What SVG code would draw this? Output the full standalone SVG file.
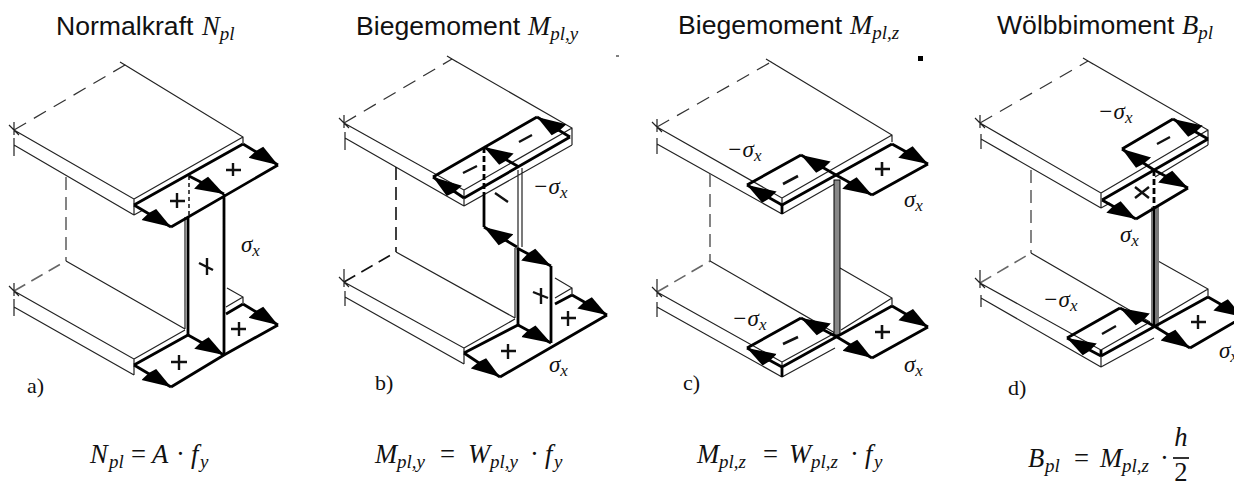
<svg xmlns="http://www.w3.org/2000/svg" width="1234" height="483" viewBox="0 0 1234 483">
<style>
.t{font-family:"Liberation Sans",Arial,sans-serif;font-size:26.6px;fill:#111}
.m{font-family:"Liberation Serif","DejaVu Serif",serif;font-style:italic;font-size:26.6px;fill:#111}
.m tspan.i{font-size:19px}
.u{font-style:normal}
.l{font-family:"Liberation Serif",serif;font-size:22px;fill:#111}
.s{font-family:"Liberation Serif","DejaVu Serif",serif;font-style:italic;font-size:23px;fill:#111}
.s tspan{font-size:17px}
.e{fill:none;stroke:#222;stroke-width:1.2}
.d{fill:none;stroke:#333;stroke-width:1.2;stroke-dasharray:14 9}
.g{fill:none;stroke:#666;stroke-width:1.6;stroke-dasharray:13 7}
.k{stroke:#111}
.b{fill:none;stroke:#000;stroke-width:2.8}
.a{fill:none;stroke:#000;stroke-width:2.8;marker-end:url(#h)}
.p{fill:none;stroke:#111;stroke-width:2.4}
</style>
<defs>
<marker id="h" markerUnits="userSpaceOnUse" markerWidth="30" markerHeight="20" viewBox="0 0 30 20" refX="29" refY="10" orient="auto"><path d="M29 10 L7 2 L3 9 L0 19 Z" fill="#000"/></marker>
</defs>
<rect width="1234" height="483" fill="#fff"/>

<g id="titles">
<text class="t" x="56" y="35">Normalkraft</text>
<text class="m" x="202" y="35">N<tspan class="i" dy="5">pl</tspan></text>
<text class="t" x="356" y="35">Biegemoment</text>
<text class="m" x="528" y="35">M<tspan class="i" dy="5">pl,y</tspan></text>
<text class="t" x="678" y="34">Biegemoment</text>
<text class="m" x="850" y="34">M<tspan class="i" dy="5">pl,z</tspan></text>
<text class="t" x="997" y="34">Wölbbimoment</text>
<text class="m" x="1182" y="34">B<tspan class="i" dy="5">pl</tspan></text>
</g>

<g id="panel-a">
<g id="a-beam">
<path class="d" d="M14 130 L125 65"/><path class="e" d="M9 125 L19 135 M14 122 V135 M120 62 L130 68 M125 65 L243 137 V143 M14 130 L134 199 V215 M14 145 L134 215 M14 138 V156 M134 199 L243 137 M134 215 L143 210"/>
<path class="g" d="M66 177 V261 M14 291 L66 261"/>
<path class="e" d="M9 286 L19 296 M14 283 V296 M14 299 V316 M66 261 L185 329 M14 291 L134 359 V375 M14 307 L134 375 M134 359 L185 330 M227 288 L243 297 V303 M226 307 L243 297 M185 217 V329"/>
</g>
<g id="a-stress">
<path class="a" d="M243 144 L278 165"/><path class="a" d="M134 205 L171 227"/><path class="a" d="M189 176 L224 194"/>
<path class="b" d="M134 205 L243 144 M278 165 L171 227 M188 217 V335 M224 194 V355"/>
<path d="M189 176 V217" fill="none" stroke="#000" stroke-width="1.4" stroke-dasharray="4 3"/>
<path class="a" d="M243 304 L278 325"/><path class="a" d="M134 365 L171 387"/><path class="a" d="M188 335 L224 355"/>
<path class="b" d="M134 365 L188 335 M226 314 L243 304 M278 325 L224 355 L171 387"/>
<path class="p" d="M226 170 L241 170 M233 163 V176 M170 201 L185 201 M177 193 V208 M199 263 L213 270 M207 258 V275 M171 362 L187 362 M179 355 V370 M231 329 L246 329 M239 322 V336"/>
</g>
<text class="s" x="241" y="252">σ<tspan dy="4">x</tspan></text>
<text class="l" x="27" y="393">a)</text>
</g>

<g id="panel-b">
<g id="b-beam">
<path class="d" d="M344 123 L452 59"/><path class="e" d="M339 118 L349 128 M344 115 V128 M447 56 L457 62 M452 59 L572 128 V145 M344 123 L464 190 V206 M345 138 L464 206 M345 132 V150 M464 190 L572 128 M464 206 L572 145 M518 170 V247 M522 168 V247"/>
<path class="g k" d="M396 167 V252 M344 282 L396 252"/>
<path class="e" d="M339 277 L349 287 M344 269 V287 M345 291 V306 M396 252 L515 318 M344 282 L464 348 V364 M345 297 L464 364 M464 348 L515 319 M555 278 L572 288 V295 M555 298 L572 288 M515 248 V318"/>
</g>
<g id="b-stress">
<path class="a" d="M570 137 L537 117"/><path class="a" d="M464 198 L433 177"/><path class="a" d="M519 167 L484 147"/>
<path class="b" d="M433 177 L537 117 M464 198 L570 137"/>
<path class="b" d="M484 193 V227"/><path class="a" d="M517 247 L484 227"/><path class="a" d="M517 248 L551 266"/>
<path class="b" d="M484 147 V193" stroke-dasharray="6 3"/>
<path class="b" d="M551 266 V343 M518 248 V325"/>
<path class="a" d="M572 295 L607 315"/><path class="a" d="M464 353 L500 377"/><path class="a" d="M518 325 L551 343"/>
<path class="b" d="M464 353 L518 325 M555 304 L572 295 M607 315 L500 377"/>
<path class="p" d="M463 173 L477 166 M519 142 L532 135 M495 193 L508 202 M533 292 L548 298 M541 288 V304 M561 318 L576 318 M568 311 V326 M501 351 L516 351 M508 344 V359"/>
</g>
<text class="s" x="533" y="194">−σ<tspan dy="4">x</tspan></text>
<text class="s" x="549" y="372">σ<tspan dy="4">x</tspan></text>
<text class="l" x="375" y="390">b)</text>
<path id="b-speck" d="M616 56 H619" stroke="#000" stroke-width="1"/>
</g>

<g id="panel-c">
<g id="c-beam">
<path class="d" d="M657 127 L771 62"/><path class="e" d="M652 122 L662 132 M657 119 V132 M766 59 L776 65 M771 62 L892 135 V142 M657 127 L782 198 V214 M657 144 L782 214 M657 138 V154 M782 198 L892 135 M782 214 L838 182"/>
<path class="g" d="M710 174 V261 M657 292 L710 261"/>
<path class="e" d="M652 287 L662 297 M657 279 V297 M657 302 V317 M710 261 L835 333 M657 292 L782 362 V377 M657 307 L782 377 M782 362 L835 333 M782 377 L835 348 M840 268 L892 298 V306 M841 330 L892 298"/>
<rect x="834" y="180" width="6" height="155" fill="#888" stroke="#000" stroke-width="1"/>
</g>
<g id="c-stress">
<path class="a" d="M782 205 L747 185"/><path class="a" d="M836 175 L801 155"/>
<path class="b" d="M747 185 L801 155 M782 205 L892 144 M928 164 L872 195"/>
<path class="a" d="M892 144 L928 164"/><path class="a" d="M836 175 L872 195"/>
<path class="a" d="M782 367 L747 348"/><path class="a" d="M837 337 L801 318"/>
<path class="b" d="M747 348 L801 318 M782 367 L892 306 M928 327 L872 358 M782 205 V214 M782 367 V377"/>
<path class="a" d="M892 306 L928 327"/><path class="a" d="M837 337 L872 358"/>
<path class="p" d="M783 184 L798 176 M875 169 L890 169 M882 162 V176 M783 344 L798 337 M875 332 L890 332 M882 325 V339" style="stroke-width:2.6"/>
</g>
<text class="s" x="727" y="157">−σ<tspan dy="4">x</tspan></text>
<text class="s" x="904" y="207">σ<tspan dy="4">x</tspan></text>
<text class="s" x="732" y="326">−σ<tspan dy="4">x</tspan></text>
<text class="s" x="904" y="372">σ<tspan dy="4">x</tspan></text>
<text class="l" x="683" y="390">c)</text>
<rect id="c-speck" x="918" y="56" width="5" height="5" fill="#000"/>
</g>

<g id="panel-d">
<g id="d-beam">
<path class="d" d="M980 123 L1088 61"/><path class="e" d="M975 118 L985 128 M980 115 V128 M1083 58 L1093 64 M1088 61 L1208 130 V145 M980 123 L1101 193 V208 M981 139 L1101 208 M981 134 V149 M1101 193 L1208 130 M1101 208 L1110 203 M1155 177 L1208 145"/>
<path class="g" d="M1031 170 V253 M980 283 L1031 253"/>
<path class="e" d="M975 278 L985 288 M980 270 V288 M981 295 V307 M1031 253 L1150 322 M980 283 L1101 350 V367 M981 298 L1101 367 M1101 367 L1154 338 M1101 350 L1150 322 M1158 261 L1208 289 V297 M1159 318 L1208 289"/>
<rect x="1151" y="207" width="8" height="120" fill="#777"/>
<path d="M1154 207 V327" stroke="#000" stroke-width="2"/>
</g>
<g id="d-stress">
<path class="a" d="M1208 139 L1173 119"/><path class="a" d="M1154 170 L1122 149"/>
<path class="b" d="M1122 149 L1173 119 M1208 139 L1102 200 M1188 188 L1136 219"/>
<path class="a" d="M1154 170 L1188 188"/><path class="a" d="M1102 200 L1136 219"/>
<path class="b" d="M1154 170 V207" stroke-dasharray="6 3"/>
<path class="a" d="M1101 356 L1067 338"/><path class="a" d="M1154 326 L1120 308"/>
<path class="b" d="M1067 338 L1120 308 M1101 356 L1208 297 M1243 317 L1190 348 M1101 350 V356"/>
<path class="a" d="M1208 297 L1243 317"/><path class="a" d="M1154 326 L1190 348"/>
<path class="p" d="M1157 144 L1170 137 M1135 187 L1149 198 M1149 187 L1135 198 M1102 334 L1116 326 M1191 322 L1206 322 M1198 315 V329"/>
</g>
<text class="s" x="1098" y="119">−σ<tspan dy="4">x</tspan></text>
<text class="s" x="1120" y="242">σ<tspan dy="4">x</tspan></text>
<text class="s" x="1043" y="307">−σ<tspan dy="4">x</tspan></text>
<text class="s" x="1219" y="358">σ<tspan dy="4">x</tspan></text>
<text class="l" x="1008" y="395">d)</text>
</g>

<g id="equations">
<text class="m" y="463"><tspan x="90">N</tspan><tspan class="i" x="109" dy="5">pl</tspan><tspan class="u" x="131" dy="-5">=</tspan><tspan x="152">A</tspan><tspan class="u" x="176">·</tspan><tspan x="191">f</tspan><tspan class="i" x="200" dy="5">y</tspan></text>
<text class="m" y="463"><tspan x="375">M</tspan><tspan class="i" x="397" dy="5">pl,y</tspan><tspan class="u" x="440" dy="-5">=</tspan><tspan x="468">W</tspan><tspan class="i" x="490" dy="5">pl,y</tspan><tspan class="u" dy="-5" x="530">·</tspan><tspan x="545">f</tspan><tspan class="i" x="554" dy="5">y</tspan></text>
<text class="m" y="463"><tspan x="697">M</tspan><tspan class="i" x="719" dy="5">pl,z</tspan><tspan class="u" x="763" dy="-5">=</tspan><tspan x="789">W</tspan><tspan class="i" x="811" dy="5">pl,z</tspan><tspan class="u" dy="-5" x="850">·</tspan><tspan x="865">f</tspan><tspan class="i" x="874" dy="5">y</tspan></text>
<text class="m" y="467"><tspan x="1028">B</tspan><tspan class="i" x="1045" dy="5">pl</tspan><tspan class="u" x="1074" dy="-5">=</tspan><tspan x="1100">M</tspan><tspan class="i" x="1122" dy="5">pl,z</tspan><tspan class="u" dy="-5" x="1160">·</tspan></text>
<text class="m" x="1181" y="446" text-anchor="middle">h</text>
<path d="M1173 458 H1189" stroke="#000" stroke-width="1.6"/>
<text class="m u" x="1181" y="481" text-anchor="middle">2</text>
</g>
</svg>
